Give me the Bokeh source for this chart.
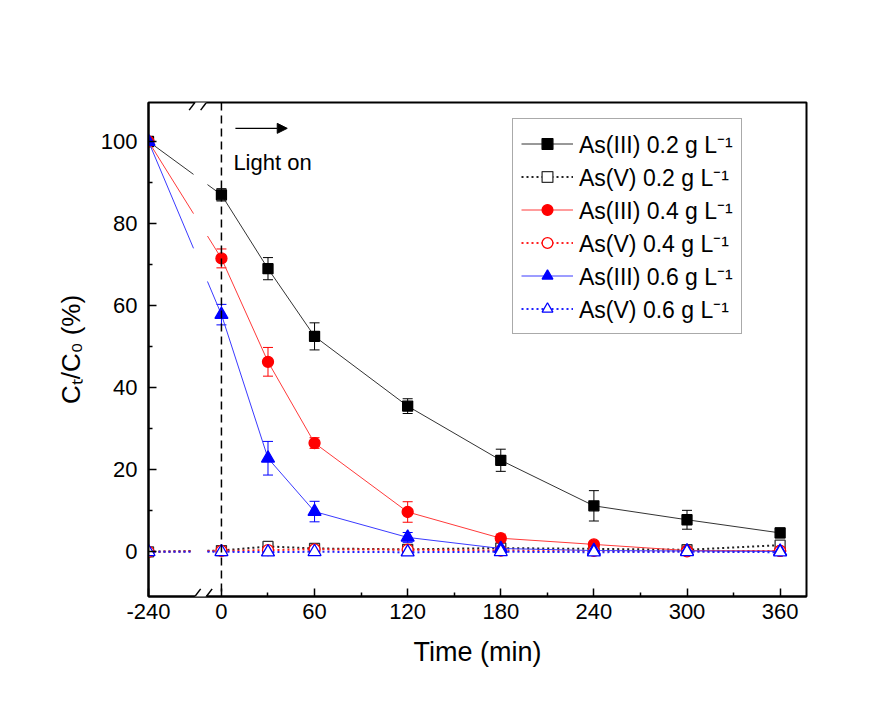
import numpy as np
from bokeh.plotting import figure
from bokeh.models import (FixedTicker, Legend, LegendItem, Span, Arrow, NormalHead, TeeHead,
                          Whisker, ColumnDataSource, Label, Range1d)
from bokeh.embed import file_html
from bokeh.resources import INLINE

# ---------------- data ----------------
time_min = [-240, 0, 30, 60, 120, 180, 240, 300, 360]

as3_02 = [100, 87.0, 69.0, 52.5, 35.5, 22.3, 11.2, 7.8, 4.6]
as3_02_err = [0, 1.5, 2.7, 3.3, 1.8, 2.7, 3.7, 2.3, 1.2]
as5_02 = [0, 0.3, 1.3, 0.8, 0.6, 0.9, 0.7, 0.5, 1.6]
as5_02_err = [0, 0.6, 0.8, 0.6, 0.5, 0.5, 0.5, 0.5, 0.9]
as3_04 = [100, 71.5, 46.3, 26.5, 9.7, 3.3, 1.8, 0.3, 0.2]
as3_04_err = [0, 2.3, 3.5, 1.3, 2.5, 1.0, 0.7, 0.5, 0.5]
as5_04 = [0, 0.2, 0.4, 0.6, 0.5, 0.3, 0.2, 0.1, 0.2]
as5_04_err = [0, 0.5, 0.6, 0.5, 0.5, 0.4, 0.4, 0.4, 0.5]
as3_06 = [100, 57.8, 22.8, 9.8, 3.5, 0.8, 0.3, 0.2, 0.1]
as3_06_err = [0, 2.5, 4.1, 2.5, 1.2, 0.6, 0.4, 0.4, 0.4]
as5_06 = [0, 0.0, -0.1, 0.0, -0.1, 0.0, -0.1, 0.0, -0.1]
as5_06_err = [0, 0.4, 0.4, 0.4, 0.4, 0.4, 0.4, 0.4, 0.4]

series_labels = ["As(III) 0.2 g L\u207b\u00b9", "As(V) 0.2 g L\u207b\u00b9",
                 "As(III) 0.4 g L\u207b\u00b9", "As(V) 0.4 g L\u207b\u00b9",
                 "As(III) 0.6 g L\u207b\u00b9", "As(V) 0.6 g L\u207b\u00b9"]

x_ticks = [-240, 0, 60, 120, 180, 240, 300, 360]
x_tick_labels = ["-240", "0", "60", "120", "180", "240", "300", "360"]
x_minor_ticks = [30, 90, 150, 210, 270, 330]
y_ticks = [0, 20, 40, 60, 80, 100]
y_tick_labels = ["0", "20", "40", "60", "80", "100"]
y_minor_ticks = [10, 30, 50, 70, 90]

x_label = "Time (min)"
y_label = "C\u209c/C\u2080 (%)"
annot_text = "Light on"

# ---------------- axis break layout ----------------
BREAK_POS = -47          # where t = -240 is drawn
GAP = (-18.0, -9.0)      # interruption of the lines at the break
X0, X1 = -47, 377
Y0, Y1 = -10.9, 109.5
FONT = "Liberation Sans"
FRAME_W, FRAME_H = 658, 494


def disp(t):
    return BREAK_POS if t == -240 else t


xd = [disp(t) for t in time_min]

p = figure(width=868, height=690, x_range=Range1d(X0, X1), y_range=Range1d(Y0, Y1),
           output_backend="svg", toolbar_location=None,
           min_border_left=148, min_border_right=868 - 148 - FRAME_W,
           min_border_top=102, min_border_bottom=690 - 102 - FRAME_H)
p.background_fill_color = "white"
p.border_fill_color = "white"
p.xgrid.visible = False
p.ygrid.visible = False
p.outline_line_color = "black"
p.outline_line_width = 2

xt_disp = [disp(t) for t in x_ticks]
p.xaxis.ticker = FixedTicker(ticks=xt_disp, minor_ticks=x_minor_ticks)
p.xaxis.major_label_overrides = {v: s for v, s in zip(xt_disp, x_tick_labels)}
p.yaxis.ticker = FixedTicker(ticks=y_ticks, minor_ticks=y_minor_ticks)
p.yaxis.major_label_overrides = {v: s for v, s in zip(y_ticks, y_tick_labels)}

for ax in (p.xaxis[0], p.yaxis[0]):
    ax.axis_line_width = 2
    ax.axis_line_color = "black"
    ax.major_tick_in = 8
    ax.major_tick_out = 0
    ax.minor_tick_in = 4
    ax.minor_tick_out = 0
    ax.major_tick_line_width = 1.5
    ax.minor_tick_line_width = 1.5
    ax.major_tick_line_color = "black"
    ax.minor_tick_line_color = "black"
    ax.major_label_text_font = FONT
    ax.major_label_text_font_size = "22px"
    ax.major_label_text_color = "black"
    ax.axis_label_text_font = FONT
    ax.axis_label_text_font_style = "normal"
    ax.axis_label_text_color = "black"

p.xaxis.major_label_standoff = 7
p.yaxis.major_label_standoff = 11
p.xaxis.axis_label = x_label
p.xaxis.axis_label_text_font_size = "27px"
p.xaxis.axis_label_standoff = 15
p.yaxis.axis_label = y_label
p.yaxis.axis_label_text_font_size = "26px"
p.yaxis.axis_label_standoff = 12

# ---------------- series ----------------
series = [
    (as3_02, as3_02_err, "#333333", "square", "#000000", "#000000", None, 10),
    (as5_02, as5_02_err, "#222222", "square", "#333333", "white", "2 3", 10),
    (as3_04, as3_04_err, "#ff3a3a", "circle", "#ff0000", "#ff0000", None, 11),
    (as5_04, as5_04_err, "#ff2020", "circle", "#ff0000", "white", "2 3", 11),
    (as3_06, as3_06_err, "#3a3aff", "triangle", "#0000ff", "#0000ff", None, 13),
    (as5_06, as5_06_err, "#2020ff", "triangle", "#0000ff", "white", "2 3", 13),
]

items = []
for (vals, errs, lcol, mk, mcol, mfill, dash, msize), lab in zip(series, series_labels):
    # line with interruption at the axis break
    x_a, y_a = xd[0], vals[0]
    x_b, y_b = xd[1], vals[1]
    ya_gap = y_a + (y_b - y_a) * (GAP[0] - x_a) / (x_b - x_a)
    yb_gap = y_a + (y_b - y_a) * (GAP[1] - x_a) / (x_b - x_a)
    xs = [[x_a, GAP[0]], [GAP[1]] + xd[1:]]
    ys = [[y_a, ya_gap], [yb_gap] + vals[1:]]
    lw = 1.0 if dash is None else 2.0
    kw = dict(line_color=lcol, line_width=lw)
    if dash is not None:
        kw["line_dash"] = dash
    lr = p.multi_line(xs=xs, ys=ys, **kw)

    # error bars
    src = ColumnDataSource(dict(base=xd[1:],
                                lower=[v - e for v, e in zip(vals[1:], errs[1:])],
                                upper=[v + e for v, e in zip(vals[1:], errs[1:])]))
    w = Whisker(source=src, base="base", lower="lower", upper="upper",
                line_color=mcol, line_width=1,
                upper_head=TeeHead(size=10, line_color=mcol, line_width=1),
                lower_head=TeeHead(size=10, line_color=mcol, line_width=1))
    p.add_layout(w)

    sr = p.scatter(x=xd, y=vals, marker=mk, size=msize, line_color=mcol,
                   fill_color=mfill, line_width=1.3)
    items.append(LegendItem(label=lab, renderers=[lr, sr]))

legend = Legend(items=items, location=(364, 262), orientation="vertical",
                glyph_width=52, glyph_height=27, label_height=33, spacing=0,
                padding=8, margin=0, label_standoff=6,
                label_text_font=FONT, label_text_font_size="23px",
                label_text_color="black", label_text_baseline="middle",
                border_line_color="#555555", border_line_width=1,
                background_fill_color="white", background_fill_alpha=1)
p.add_layout(legend, "center")

# ---------------- annotations ----------------
p.add_layout(Span(location=0, dimension="height", line_color="black",
                  line_width=1.5, line_dash="8 5"))

p.add_layout(Arrow(end=NormalHead(size=10, fill_color="black", line_color="black"),
                   x_start=9, y_start=103.2, x_end=42.4, y_end=103.2,
                   line_color="black", line_width=1.3))
p.add_layout(Label(x=7.7, y=94.8, text=annot_text, text_font=FONT,
                   text_font_size="22px", text_color="black", text_baseline="alphabetic"))

# axis break marks
c1, c2 = -17.1, -9.7
for yb in (Y0, Y1):
    p.add_layout(Arrow(end=None, x_start=c1, y_start=yb, x_end=c2, y_end=yb,
                       line_color="white", line_width=5))
    for c in (c1, c2):
        p.add_layout(Arrow(end=None, x_start=c - 3.7, y_start=yb - 1.85,
                           x_end=c + 3.7, y_end=yb + 1.85,
                           line_color="black", line_width=1.5))

open("out.html", "w").write(file_html(p, INLINE))
